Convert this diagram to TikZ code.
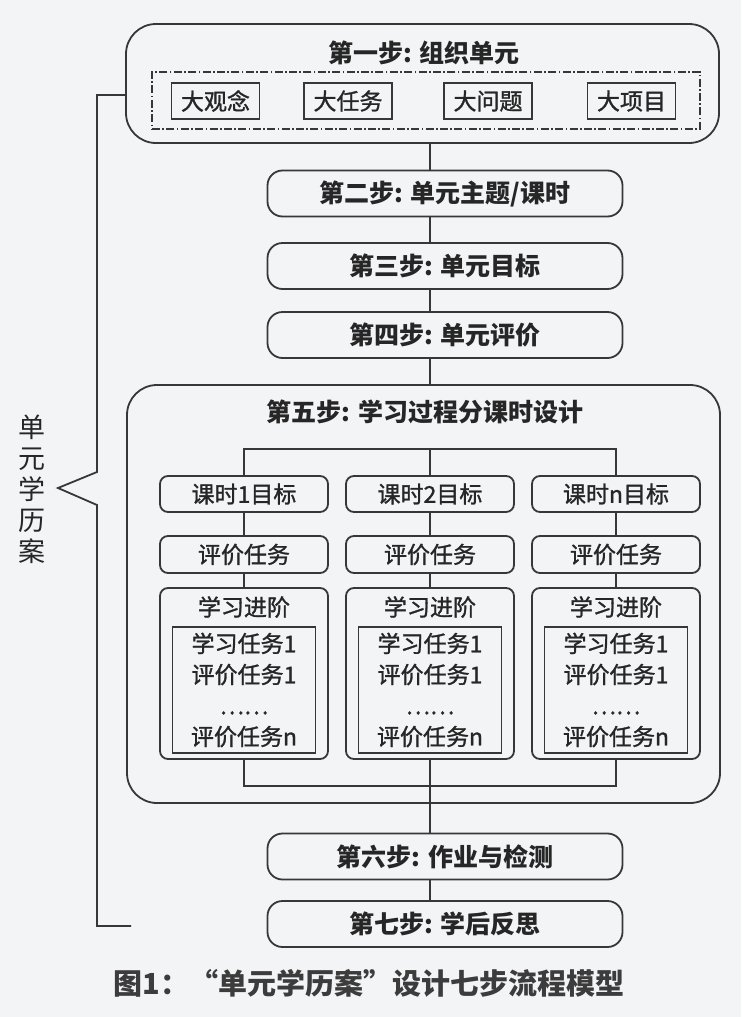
\documentclass[tikz,border=0pt]{standalone}
\usepackage{fontspec}
\setmainfont{Noto Sans CJK SC}
\newfontfamily\lessonfamily{Noto Sans CJK SC}[FakeBold=1.2]

\definecolor{PaperColor}{RGB}{243,244,246}
\definecolor{LineColor}{RGB}{55,55,55}
\definecolor{InkColor}{RGB}{38,38,38}
\definecolor{CaptionColor}{RGB}{60,60,60}
\newcommand{\stepfont}{\fontsize{12.5pt}{15pt}\selectfont\bfseries}
\newcommand{\lessonfont}{\lessonfamily\fontsize{11.5pt}{15.5pt}\selectfont}

\tikzstyle{ts-box-base}=[rectangle,
                         draw=LineColor,
                         line width=0.9pt,
                         text=InkColor,
                         inner sep=0pt,
                         align=center,
                        ]
\tikzstyle{stepbox}=[ts-box-base,
                     rounded corners=7.5pt,
                     font=\stepfont,
                     minimum width=177.5pt,
                     minimum height=23pt]
\tikzstyle{bigbox}=[ts-box-base,
                    rounded corners=15pt,
                    minimum width=296.5pt]
\tikzstyle{ideabox}=[ts-box-base,
                     font=\lessonfont,
                     minimum width=44pt,
                     minimum height=18pt]
\tikzstyle{lessonbox}=[ts-box-base,
                       rounded corners=4pt,
                       font=\lessonfont,
                       minimum width=84pt,
                       minimum height=18pt]
\tikzstyle{taskbox}=[ts-box-base,
                     font=\lessonfont,
                     minimum width=71.5pt,
                     minimum height=63pt]
\tikzstyle{ts-title}=[text=InkColor, font=\stepfont, inner sep=0pt]
\tikzstyle{ts-text}=[text=InkColor, font=\lessonfont, inner sep=0pt]

\begin{document}
\begin{tikzpicture}[x=0.5pt, y=-0.5pt, line width=0.9pt]
    \fill[PaperColor] (0,0) rectangle (741,1017);
    \useasboundingbox (0,0) rectangle (741,1017);

    % Steps
    % --------------------------------------------------------------------------
    \node at (422.5,  83.5) (step1)       [bigbox, minimum height=59.5pt] {};
    \node at (424,    53)   (step1_title) [ts-title] {第一步: 组织单元};
    \node at (426,   100.5) (step1_frame) [rectangle, draw=LineColor, line width=0.7pt,
                                           dash pattern=on 4pt off 1.2pt on 0.8pt off 1.2pt,
                                           minimum width=274pt, minimum height=28.5pt] {};

    \node at (215.5, 101) (idea_concept)  [ideabox] {大观念};
    \node at (348,   101) (idea_task)     [ideabox] {大任务};
    \node at (488,   101) (idea_question) [ideabox] {大问题};
    \node at (631.5, 101) (idea_project)  [ideabox] {大项目};

    \node at (445, 193.5) (step2) [stepbox] {第二步: 单元主题/课时};
    \node at (445, 266)   (step3) [stepbox] {第三步: 单元目标};
    \node at (445, 335)   (step4) [stepbox] {第四步: 单元评价};

    \node at (423.5, 594) (step5)       [bigbox, minimum height=209pt] {};
    \node at (425,   412) (step5_title) [ts-title] {第五步: 学习过程分课时设计};

    \node at (445, 856.5) (step6) [stepbox] {第六步: 作业与检测};
    \node at (445, 924)   (step7) [stepbox] {第七步: 学后反思};

    % Lessons
    % --------------------------------------------------------------------------
    \node at (244, 494) (lesson1_goal) [lessonbox] {课时1目标};
    \node at (430, 494) (lesson2_goal) [lessonbox] {课时2目标};
    \node at (616, 494) (lesson3_goal) [lessonbox] {课时n目标};

    \node at (244, 554.5) (lesson1_eval) [lessonbox, minimum height=18.5pt] {评价任务};
    \node at (430, 554.5) (lesson2_eval) [lessonbox, minimum height=18.5pt] {评价任务};
    \node at (616, 554.5) (lesson3_eval) [lessonbox, minimum height=18.5pt] {评价任务};

    \node at (244, 673.5) (lesson1_path) [lessonbox, minimum height=85.5pt] {};
    \node at (430, 673.5) (lesson2_path) [lessonbox, minimum height=85.5pt] {};
    \node at (616, 673.5) (lesson3_path) [lessonbox, minimum height=85.5pt] {};

    \node at (244, 607) (lesson1_path_title) [ts-text] {学习进阶};
    \node at (430, 607) (lesson2_path_title) [ts-text] {学习进阶};
    \node at (616, 607) (lesson3_path_title) [ts-text] {学习进阶};

    \node at (244, 690) (lesson1_tasks) [taskbox] {学习任务1\\评价任务1\\……\\评价任务n};
    \node at (430, 690) (lesson2_tasks) [taskbox] {学习任务1\\评价任务1\\……\\评价任务n};
    \node at (616, 690) (lesson3_tasks) [taskbox] {学习任务1\\评价任务1\\……\\评价任务n};

    % Side label and caption
    % --------------------------------------------------------------------------
    \node at (32, 489) (brace_label) [text=InkColor, align=center, inner sep=0pt,
                                      font=\fontsize{13.5pt}{15.5pt}\selectfont] {单\\元\\学\\历\\案};
    \node at (369, 983) (caption) [text=CaptionColor, inner sep=0pt,
                                   font=\fontsize{14.5pt}{17pt}\selectfont\bfseries]
                                  {图1：“单元学历案”设计七步流程模型};

    % Lines
    % --------------------------------------------------------------------------
    \coordinate (spine)     at (430, 0);
    \coordinate (fork_in)   at (430, 449);
    \coordinate (fork_out)  at (430, 786);
    \coordinate (brace_top) at (97, 95);
    \coordinate (brace_tip) at (58, 488);
    \coordinate (brace_end) at (131, 926);

    \draw[LineColor] (spine |- step1.south) -- (spine |- step2.north);
    \draw[LineColor] (spine |- step2.south) -- (spine |- step3.north);
    \draw[LineColor] (spine |- step3.south) -- (spine |- step4.north);
    \draw[LineColor] (spine |- step4.south) -- (spine |- step5.north);

    \draw[LineColor] (lesson1_goal.north) |- (fork_in) -| (lesson3_goal.north);
    \draw[LineColor] (fork_in) -- (lesson2_goal.north);

    \draw[LineColor] (lesson1_goal) -- (lesson1_eval);
    \draw[LineColor] (lesson2_goal) -- (lesson2_eval);
    \draw[LineColor] (lesson3_goal) -- (lesson3_eval);
    \draw[LineColor] (lesson1_eval) -- (lesson1_path);
    \draw[LineColor] (lesson2_eval) -- (lesson2_path);
    \draw[LineColor] (lesson3_eval) -- (lesson3_path);

    \draw[LineColor] (lesson1_path.south) |- (fork_out) -| (lesson3_path.south);
    \draw[LineColor] (lesson2_path.south) -- (spine |- step6.north);
    \draw[LineColor] (spine |- step6.south) -- (spine |- step7.north);

    \draw[LineColor] (brace_top -| step1.west) -- (brace_top) -- (97, 472)
                     -- (brace_tip) -- (97, 505) -- (brace_top |- brace_end) -- (brace_end);
\end{tikzpicture}
\end{document}
